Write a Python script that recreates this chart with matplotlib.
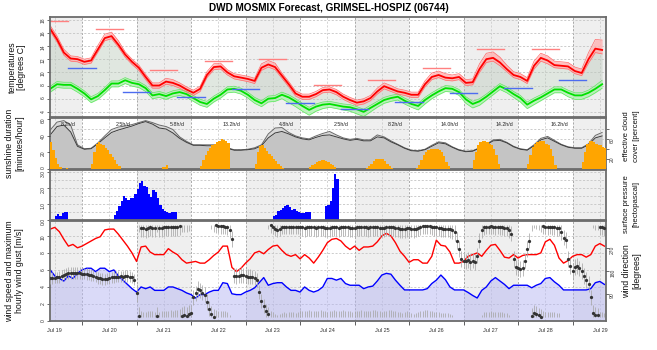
import numpy as np
import matplotlib
matplotlib.use("Agg")
import matplotlib.pyplot as plt

plt.rcParams['font.family'] = ['Liberation Sans', 'DejaVu Sans']

# ---------------------------------------------------------------- data
# time is counted in hours from Jul 19 00:00
t3 = np.arange(10, 254, 3)      # 3-hourly samples
t2 = np.arange(10, 255, 2)      # 2-hourly samples
t1 = np.arange(10, 255)         # hourly samples

day_labels = ['Jul 19', 'Jul 20', 'Jul 21', 'Jul 22', 'Jul 23', 'Jul 24',
              'Jul 25', 'Jul 26', 'Jul 27', 'Jul 28', 'Jul 29']
sun_per_day = ['8.2h/d', '2.5h/d', '5.8h/d', '13.2h/d', '4.8h/d',
               '2.5h/d', '8.2h/d', '14.0h/d', '14.2h/d', '16.2h/d']

# air temperature and dew point [deg C], 3-hourly
temp = [16.6, 15.0, 13.0, 12.1, 12.0, 11.6, 11.8, 13.5, 15.2, 15.5,
        14.2, 12.7, 11.6, 10.7, 9.3, 8.0, 8.0, 8.6, 8.4, 8.0,
        7.4, 6.9, 7.5, 9.6, 10.8, 10.9, 10.0, 9.4, 9.2, 9.0,
        8.7, 10.7, 11.2, 10.8, 9.5, 8.2, 6.8, 6.3, 6.3, 6.7,
        7.3, 7.4, 7.0, 6.3, 5.8, 5.4, 5.6, 6.1, 7.1, 7.9,
        7.5, 7.1, 6.9, 6.6, 6.6, 8.2, 9.3, 9.6, 9.2, 9.1,
        9.3, 8.4, 8.5, 10.5, 12.0, 12.2, 11.5, 10.5, 9.6, 9.3,
        8.7, 11.0, 12.2, 11.8, 11.1, 11.0, 10.9, 10.2, 9.9, 12.0,
        13.6, 13.4]
temp_up = [0.5, 0.5, 0.5, 0.4, 0.4, 0.4, 0.4, 0.6, 0.6, 0.6,
           0.6, 0.4, 0.4, 0.4, 0.4, 0.4, 0.4, 0.5, 0.5, 0.4,
           0.4, 0.4, 0.4, 0.5, 0.5, 0.5, 0.4, 0.4, 0.4, 0.4,
           0.4, 0.6, 0.6, 0.6, 0.4, 0.4, 0.4, 0.4, 0.4, 0.4,
           0.4, 0.4, 0.4, 0.4, 0.4, 0.4, 0.4, 0.4, 0.5, 0.5,
           0.5, 0.4, 0.4, 0.4, 0.4, 0.5, 0.6, 0.6, 0.6, 0.5,
           0.5, 0.5, 0.5, 0.8, 0.9, 0.9, 0.8, 0.6, 0.5, 0.5,
           0.5, 0.7, 0.7, 0.7, 0.6, 0.6, 0.6, 0.6, 0.6, 1.0,
           1.4, 1.5]
temp_dn = [0.4, 0.4, 0.4, 0.4, 0.4, 0.4, 0.4, 0.4, 0.4, 0.4,
           0.4, 0.4, 0.4, 0.4, 0.4, 0.4, 0.4, 0.4, 0.4, 0.4,
           0.4, 0.4, 0.4, 0.4, 0.4, 0.4, 0.4, 0.4, 0.4, 0.4,
           0.4, 0.4, 0.4, 0.4, 0.4, 0.4, 0.4, 0.4, 0.4, 0.4,
           0.4, 0.4, 0.4, 0.4, 0.4, 0.4, 0.4, 0.4, 0.4, 0.4,
           0.4, 0.4, 0.4, 0.4, 0.4, 0.4, 0.4, 0.4, 0.4, 0.4,
           0.4, 0.4, 0.4, 0.5, 0.5, 0.5, 0.5, 0.4, 0.4, 0.4,
           0.4, 0.5, 0.5, 0.5, 0.4, 0.4, 0.4, 0.4, 0.4, 0.6,
           0.6, 0.6]
dew = [7.5, 8.2, 8.1, 8.1, 7.5, 6.8, 5.9, 6.4, 7.3, 8.3,
       8.3, 8.8, 8.4, 8.2, 7.6, 6.5, 6.7, 6.4, 6.8, 7.0,
       6.7, 6.1, 5.5, 5.2, 6.0, 6.6, 7.4, 7.5, 7.2, 6.6,
       5.8, 5.3, 6.0, 6.1, 6.6, 6.2, 5.6, 4.9, 4.3, 4.8,
       5.1, 5.2, 5.0, 4.8, 4.7, 4.4, 4.0, 4.6, 5.2, 5.8,
       6.1, 6.3, 5.7, 5.2, 4.9, 5.8, 6.5, 7.1, 7.6, 7.5,
       7.0, 5.9, 5.2, 5.6, 6.3, 7.1, 7.9, 7.4, 6.7, 6.1,
       5.1, 5.7, 6.2, 6.8, 7.4, 7.4, 6.9, 6.5, 6.5, 6.9,
       7.5, 8.2]
dew_up = [0.4, 0.4, 0.4, 0.4, 0.4, 0.4, 0.4, 0.4, 0.4, 0.4,
          0.4, 0.4, 0.4, 0.4, 0.4, 0.4, 0.4, 0.4, 0.4, 0.4,
          0.4, 0.4, 0.4, 0.4, 0.4, 0.4, 0.4, 0.4, 0.4, 0.4,
          0.4, 0.4, 0.4, 0.4, 0.4, 0.4, 0.4, 0.4, 0.4, 0.4,
          0.4, 0.4, 0.4, 0.4, 0.4, 0.4, 0.4, 0.4, 0.4, 0.4,
          0.4, 0.4, 0.4, 0.4, 0.4, 0.4, 0.4, 0.4, 0.4, 0.4,
          0.4, 0.4, 0.4, 0.4, 0.4, 0.4, 0.4, 0.4, 0.4, 0.4,
          0.4, 0.4, 0.4, 0.4, 0.4, 0.4, 0.4, 0.4, 0.4, 0.4,
          0.5, 0.6]
dew_dn = [0.5, 0.5, 0.5, 0.5, 0.5, 0.5, 0.5, 0.5, 0.5, 0.5,
          0.5, 0.5, 0.5, 0.5, 0.5, 0.5, 0.5, 0.5, 0.5, 0.5,
          0.5, 0.5, 0.5, 0.5, 0.5, 0.5, 0.5, 0.5, 0.5, 0.5,
          0.5, 0.5, 0.5, 0.5, 0.6, 0.8, 0.8, 0.8, 0.8, 0.7,
          0.6, 0.5, 0.5, 0.5, 0.6, 0.7, 0.7, 0.6, 0.5, 0.5,
          0.5, 0.5, 0.5, 0.5, 0.6, 0.6, 0.5, 0.5, 0.5, 0.5,
          0.5, 0.6, 0.6, 0.6, 0.5, 0.5, 0.5, 0.5, 0.5, 0.6,
          0.6, 0.6, 0.5, 0.5, 0.5, 0.5, 0.6, 0.6, 0.6, 0.6,
          0.6, 0.6]

# daytime maximum (06-18) and night-time minimum (18-06) per day
tmax_day = [17.8, 16.6, 10.4, 11.7, 12.0, 8.1, 8.9, 10.7, 13.5, 13.6]
tmin_night = [10.6, 7.0, 6.2, 7.5, 5.4, 4.5, 5.5, 6.8, 7.7, 8.8]

# effective cloud cover [percent], 3-hourly, two model runs
cloud_a = [78, 94, 97, 88, 48, 40, 41, 52, 66, 79,
           84, 86, 89, 93, 97, 93, 88, 85, 79, 64,
           55, 48, 48, 48, 48, 47, 42, 38, 38, 39,
           42, 48, 70, 82, 83, 73, 66, 62, 60, 66,
           71, 75, 68, 62, 59, 61, 58, 58, 68, 64,
           56, 49, 42, 37, 36, 39, 47, 54, 52, 44,
           38, 35, 36, 42, 49, 58, 59, 53, 45, 40,
           38, 48, 61, 65, 57, 49, 44, 42, 42, 50,
           67, 73]
cloud_b = [68, 85, 88, 74, 45, 39, 40, 50, 62, 73,
           78, 82, 86, 91, 95, 90, 82, 80, 72, 61,
           53, 47, 47, 46, 46, 45, 41, 37, 37, 38,
           40, 46, 62, 72, 75, 70, 64, 60, 58, 63,
           67, 68, 64, 60, 57, 59, 56, 56, 64, 62,
           54, 48, 41, 36, 35, 38, 45, 52, 50, 43,
           37, 34, 35, 41, 48, 56, 57, 52, 44, 39,
           37, 46, 58, 62, 55, 48, 43, 41, 41, 48,
           62, 66]

# sunshine duration [minutes/hour], hourly, one row per day
sunshine = [
    32, 22, 13, 6, 2, 0, 0, 1, 0, 0, 0, 0, 0, 0,
    0, 0, 0, 0, 5, 20, 30, 32, 30, 28, 25, 22, 18, 14, 10, 6, 3, 0, 0, 0, 0, 0, 0, 0,
    0, 0, 0, 0, 0, 0, 0, 0, 0, 0, 0, 2, 2, 4, 0, 0, 0, 0, 0, 0, 0, 0, 0, 0,
    0, 0, 0, 0, 3, 10, 17, 21, 25, 28, 30, 32, 34, 36, 35, 33, 31, 0, 0, 0, 0, 0, 0, 0,
    0, 0, 0, 0, 5, 20, 27, 28, 25, 21, 18, 15, 12, 9, 6, 3, 1, 0, 0, 0, 0, 0, 0, 0,
    0, 0, 0, 0, 2, 4, 6, 8, 9, 10, 10, 9, 8, 6, 4, 2, 0, 0, 0, 0, 0, 0, 0, 0,
    0, 0, 0, 0, 0, 1, 3, 6, 9, 11, 12, 12, 11, 9, 6, 3, 1, 0, 0, 0, 0, 0, 0, 0,
    0, 0, 0, 1, 4, 10, 16, 20, 22, 24, 24, 24, 24, 23, 20, 15, 8, 3, 0, 0, 0, 0, 0, 0,
    0, 0, 0, 0, 10, 20, 28, 32, 34, 34, 32, 30, 28, 24, 16, 5, 0, 0, 0, 0, 0, 0, 0, 0,
    0, 0, 0, 0, 5, 16, 26, 30, 32, 34, 34, 33, 30, 28, 24, 15, 4, 0, 0, 0, 0, 0, 0, 0,
    0, 0, 0, 0, 8, 20, 30, 33, 33, 32, 30, 29, 28, 26, 25]

# precipitation [mm/h], hourly, one row per day
precip = [
    0, 0, 0.2, 0.35, 0.25, 0.4, 0.5, 0.45, 0, 0, 0, 0, 0, 0,
    0, 0, 0, 0, 0, 0, 0, 0, 0, 0, 0, 0, 0, 0, 0.3, 0.55, 0.87, 1.2, 1.5, 1.4, 1.25, 1.4, 1.4, 1.6,
    1.95, 2.3, 2.45, 2.1, 2.05, 1.6, 1.45, 1.9, 1.75, 1.35, 0.9, 0.7, 0.55, 0.45, 0.4, 0.45, 0.45, 0.45, 0, 0, 0, 0, 0, 0,
    0, 0, 0, 0, 0, 0, 0, 0, 0, 0, 0, 0, 0, 0, 0, 0, 0, 0, 0, 0, 0, 0, 0, 0,
    0, 0, 0, 0, 0, 0, 0, 0, 0, 0, 0, 0, 0.2, 0.3, 0.55, 0.6, 0.75, 0.87, 0.93, 0.8, 0.6, 0.7, 0.55, 0.5,
    0.4, 0.4, 0.45, 0.5, 0.5, 0, 0, 0, 0, 0, 0, 0.85, 0.9, 1.2, 2.0, 2.9, 2.6, 0, 0, 0, 0, 0, 0, 0,
    0, 0, 0, 0, 0, 0, 0, 0, 0, 0, 0, 0, 0, 0, 0, 0, 0, 0, 0, 0, 0, 0, 0, 0,
    0, 0, 0, 0, 0, 0, 0, 0, 0, 0, 0, 0, 0, 0, 0, 0, 0, 0, 0, 0, 0, 0, 0, 0,
    0, 0, 0, 0, 0, 0, 0, 0, 0, 0, 0, 0, 0, 0, 0, 0, 0, 0, 0, 0, 0, 0, 0, 0,
    0, 0, 0, 0, 0, 0, 0, 0, 0, 0, 0, 0, 0, 0, 0, 0, 0, 0, 0, 0, 0, 0, 0, 0,
    0, 0, 0, 0, 0, 0, 0, 0, 0, 0, 0, 0, 0, 0, 0]

# mean wind speed and maximum gust [m/s], 2-hourly
wind = [6.0, 5.3, 5.0, 4.7, 5.3, 5.0, 5.6, 6.0, 6.2, 6.2,
        5.8, 6.2, 6.2, 5.8, 6.0, 5.3, 4.8, 4.3, 3.8, 3.4,
        4.0, 3.8, 4.0, 3.6, 3.6, 3.6, 4.0, 4.0, 3.8, 3.6,
        3.3, 3.1, 2.7, 3.1, 3.1, 3.4, 3.6, 3.6, 4.5, 4.4,
        3.2, 3.1, 3.1, 3.4, 3.6, 3.9, 4.5, 5.1, 4.2, 4.4,
        4.5, 4.5, 4.0, 3.6, 3.6, 3.4, 4.0, 3.6, 3.4, 3.6,
        4.0, 5.0, 5.0, 4.8, 5.0, 4.4, 4.2, 4.2, 4.2, 3.8,
        4.0, 4.1, 4.7, 5.4, 5.6, 5.5, 4.8, 4.2, 3.65, 3.65,
        3.65, 3.65, 3.65, 3.8, 4.4, 4.8, 5.4, 4.85, 4.0, 3.65,
        3.65, 3.65, 3.35, 3.0, 2.7, 3.6, 4.0, 4.7, 5.1, 4.7,
        4.3, 3.8, 4.2, 4.2, 4.2, 4.2, 3.9, 4.2, 4.4, 5.0,
        5.1, 4.6, 4.2, 3.65, 3.65, 3.65, 3.65, 3.65, 3.65, 3.8,
        4.5, 4.65, 4.3]
gust = [10.8, 11.0, 10.5, 9.6, 8.8, 9.0, 8.6, 8.8, 9.1, 9.4,
        9.7, 9.9, 10.7, 10.8, 10.8, 10.2, 9.5, 8.8, 8.0, 7.0,
        8.7, 8.8, 8.1, 7.8, 7.8, 7.8, 8.5, 8.1, 7.8, 7.2,
        6.8, 6.9, 7.0, 6.8, 6.8, 7.2, 7.7, 8.1, 8.8, 8.8,
        6.3, 5.8, 6.2, 6.8, 7.3, 8.0, 8.2, 7.9, 8.4, 8.8,
        8.9, 8.3, 7.8, 7.6, 7.8, 7.3, 7.8, 7.4, 6.8, 7.5,
        8.3, 9.2, 9.6, 9.7, 9.4, 8.8, 8.4, 8.8, 8.3, 8.7,
        8.7, 8.8, 9.3, 10.0, 10.3, 10.0, 9.2, 8.2, 7.6, 6.9,
        7.2, 7.2, 6.8, 6.8, 7.6, 9.5, 8.9, 8.8, 8.1, 6.8,
        6.8, 7.0, 7.6, 7.8, 8.0, 7.6, 8.3, 8.9, 9.0, 8.3,
        7.5, 7.4, 7.8, 7.4, 7.7, 7.8, 7.8, 7.8, 8.0, 9.3,
        9.6, 8.9, 7.4, 6.8, 7.1, 7.6, 7.8, 7.8, 7.5, 7.8,
        8.8, 9.1, 8.8]

# wind direction [degrees], hourly, one row per day
wind_dir = [
    153, 153, 154, 155, 157, 162, 166, 169, 172, 172, 172, 172, 172, 172,
    170, 169, 168, 166, 164, 162, 158, 153, 151, 149, 148, 150, 153, 155, 157, 158, 158, 159, 158, 160, 161, 158, 155, 146,
    96, 5, 348, 346, 345, 348, 350, 348, 347, 5, 347, 349, 350, 350, 351, 352, 350, 352, 353, 356, 6, 8, 6, 12,
    18, 77, 93, 110, 105, 96, 88, 60, 34, 12, 2, 357, 356, 355, 355, 353, 350, 338, 305, 162, 160, 162, 165, 163,
    160, 158, 158, 156, 152, 145, 99, 64, 44, 25, 13, 357, 352, 345, 340, 345, 350, 352, 350, 352, 353, 352, 350, 352,
    352, 350, 348, 350, 352, 350, 350, 348, 350, 352, 350, 348, 347, 348, 350, 352, 350, 348, 350, 352, 350, 350, 348, 346,
    348, 350, 350, 352, 350, 350, 348, 350, 352, 352, 350, 348, 347, 348, 350, 352, 352, 350, 348, 346, 344, 343, 345, 348,
    346, 343, 342, 345, 348, 352, 354, 355, 355, 354, 352, 350, 350, 348, 346, 345, 344, 343, 342, 338, 330, 298, 266, 227,
    220, 218, 222, 215, 220, 215, 240, 298, 340, 350, 352, 352, 354, 352, 350, 352, 350, 350, 348, 346, 340, 325, 227, 194,
    190, 188, 192, 220, 266, 298, 5, 18, 12, 8, 3, 355, 352, 350, 352, 350, 350, 348, 346, 330, 310, 300, 227, 200,
    180, 196, 200, 190, 180, 160, 145, 130, 77, 18, 10, 8, 350, 350, 348]
# spread of the direction ensemble per day [degrees]
dir_spread = [22, 22, 35, 30, 28, 35, 35, 32, 30, 30, 30]

# ---------------------------------------------------------------- layout
W, H = 657.0, 350.0
fig = plt.figure(figsize=(W / 100, H / 100), dpi=100)


def rect(top, bottom, left=50, right=606):
    return [left / W, 1 - bottom / H, (right - left) / W, (bottom - top) / H]


XMIN, XMAX = 9.9, 254.7
GRID = dict(lw=0.6, ls=(0, (2.5, 2)), zorder=1)


def frame(ax, grid_y):
    ax.set_xlim(XMIN, XMAX)
    for d in range(0, 11, 2):
        ax.axvspan(24 * d, 24 * (d + 1), color='#efefef', lw=0, zorder=0)
    for d in range(1, 11):
        ax.axvline(24 * d, color='#9c9c9c', **GRID)
    for d in range(0, 11):
        ax.axvline(24 * d + 12, color='#cdcdcd', **GRID)
    for y in grid_y:
        ax.axhline(y, color='#c4c4c4', **GRID)
    ax.tick_params(axis='x', bottom=False, labelbottom=False)
    for s in ax.spines.values():
        s.set_color('#6c6c6c')
        s.set_linewidth(1.3)
        s.set_zorder(20)


def yticks(ax, ticks, labels, side='left'):
    ax.set_yticks(ticks)
    ax.set_yticklabels(labels)
    if side == 'left':
        ax.yaxis.tick_left()
    else:
        ax.yaxis.tick_right()
    ax.tick_params(axis='y', labelrotation=90, labelsize=3.6, length=2,
                   width=0.5, pad=1, colors='#333333')


# ---- panel 1: temperatures
ax1 = fig.add_axes(rect(17, 116.5))
frame(ax1, [4, 6, 8, 10, 12, 14, 16, 18])
ax1.set_ylim(3.3, 18.4)
yticks(ax1, [4, 6, 8, 10, 12, 14, 16, 18],
       ['4', '6', '8', '10', '12', '14', '16', '18'])
T = np.array(temp)
D = np.array(dew)
ax1.fill_between(t3, D, T, color='#bccabc', alpha=0.45, lw=0, zorder=2)
ax1.fill_between(t3, D - np.array(dew_dn), D + np.array(dew_up),
                 color='#aef0ae', alpha=0.8, lw=0, zorder=3)
ax1.fill_between(t3, T - np.array(temp_dn), T + np.array(temp_up),
                 color='#ffb2b2', alpha=0.8, lw=0, zorder=3)
for edge in (D - np.array(dew_dn), D + np.array(dew_up)):
    ax1.plot(t3, edge, color='#5ee85e', lw=0.5, zorder=4)
for edge in (T - np.array(temp_dn), T + np.array(temp_up)):
    ax1.plot(t3, edge, color='#ff6a6a', lw=0.5, zorder=4)
ax1.plot(t3, D, color='#00e000', lw=1.3, zorder=5)
ax1.plot(t3, T, color='#ff0000', lw=1.3, zorder=5)
for k, v in enumerate(tmax_day):
    ax1.plot([6 + 24 * k, 18 + 24 * k], [v, v], color='#ff8080', lw=1.0, zorder=6)
for k, v in enumerate(tmin_night):
    ax1.plot([18 + 24 * k, 30 + 24 * k], [v, v], color='#4d6cf0', lw=1.0, zorder=6)

# ---- panel 2: cloud cover (right axis) and sunshine (left axis)
ax2 = fig.add_axes(rect(117.5, 168.5))
frame(ax2, [20, 40, 60, 80])
ax2.set_ylim(0, 103.3)
ca = np.array(cloud_a)
cb = np.array(cloud_b)
lo = np.minimum(ca, cb)
hi = np.maximum(ca, cb)
ax2.fill_between(t3, 0, lo, color='#c4c4c4', lw=0, zorder=2)
ax2.fill_between(t3, lo, hi, color='#d8d8d8', lw=0, zorder=2)
ax2.plot(t3, ca, color='#6a6a6a', lw=0.7, zorder=3)
ax2.plot(t3, cb, color='#3c3c3c', lw=0.7, zorder=3)

ax2s = ax2.twinx()
ax2s.set_xlim(XMIN, XMAX)
ax2s.set_ylim(0, 62)
ax2s.bar(t1, sunshine, width=1.0, align='edge', color='#ffa500', lw=0, zorder=4)
for s in ax2s.spines.values():
    s.set_visible(False)
for k, lab in enumerate(sun_per_day):
    ax2s.text(18 + 24 * k, 53.5, lab, ha='center', va='center',
              fontsize=3.8, color='#222222', zorder=6)
# sunshine scale on the left, cloud scale on the right
yticks(ax2s, [0, 20, 40, 60], ['0', '20', '40', '60'], side='left')
yticks(ax2, [20, 40, 60, 80], ['20', '', '60', ''], side='right')

# ---- panel 3: precipitation
ax3 = fig.add_axes(rect(170, 219.5))
frame(ax3, [0.5, 1.0, 1.5, 2.0, 2.5, 3.0])
ax3.set_ylim(0, 3.15)
ax3.bar(t1, precip, width=1.0, align='edge', color='#0000ff', lw=0, zorder=4)
yticks(ax3, [0, 1, 2, 3], ['0.0', '1.0', '2.0', '3.0'])

# ---- panel 4: wind speed, gust and direction
ax4 = fig.add_axes(rect(221, 321))
frame(ax4, [2, 4, 6, 8, 10])
ax4.set_ylim(0, 11.75)
ax4.fill_between(t2, 0, wind, color='#b6b6f2', alpha=0.5, lw=0, zorder=2)
ax4.plot(t2, wind, color='#0000ff', lw=1.0, zorder=5)
ax4.plot(t2, gust, color='#ff0000', lw=1.0, zorder=5)

ax4d = ax4.twinx()
ax4d.set_xlim(XMIN, XMAX)
ax4d.set_ylim(-14.4, 374.4)
wd = np.array(wind_dir, dtype=float)
sp = np.array([dir_spread[int(h // 24)] for h in t1], dtype=float)
lo = wd - sp
hi = wd + sp
segs_x, segs_lo, segs_hi = [], [], []
for h, a, b in zip(t1, lo, hi):
    segs_x.append(h); segs_lo.append(max(a, 0)); segs_hi.append(min(b, 360))
    if b > 360:
        segs_x.append(h); segs_lo.append(0); segs_hi.append(b - 360)
    if a < 0:
        segs_x.append(h); segs_lo.append(360 + a); segs_hi.append(360)
ax4d.vlines(segs_x, segs_lo, segs_hi, color='#a8a8a8', lw=0.55, zorder=3)
ax4d.scatter(t1, wd, s=5.5, color='#333333', lw=0, zorder=6)
for s in ax4d.spines.values():
    s.set_visible(False)
yticks(ax4, [0, 2, 4, 6, 8, 10], ['0', '2', '4', '6', '8', '10'])
yticks(ax4d, [90, 180, 270], ['90', '180', '270'], side='right')

ax4.set_xticks([24 * d for d in range(1, 11)])
ax4.set_xticklabels([])
ax4.set_xticks([24 * d + 12 for d in range(11)], minor=True)
ax4.set_xticklabels(day_labels, minor=True)
ax4.tick_params(axis='x', which='major', bottom=True, length=3, width=0.6,
                color='#444444', direction='out')
ax4.tick_params(axis='x', which='minor', bottom=True, length=0, labelbottom=True,
                labelsize=4.0, pad=5, colors='#333333')
ax4d.tick_params(axis='x', bottom=False, labelbottom=False)

# ---------------------------------------------------------------- texts
fig.text(328.5 / W, 1 - 8 / H, 'DWD MOSMIX Forecast, GRIMSEL-HOSPIZ (06744)',
         ha='center', va='center', fontsize=7.2, fontweight='bold')

LBL = dict(rotation=90, ha='center', va='center', fontsize=6.3, color='#111111')
fig.text(12 / W, 1 - 67 / H, 'temperatures', **LBL)
fig.text(21.5 / W, 1 - 67 / H, '[degrees C]', **LBL)
fig.text(10 / W, 1 - 143 / H, 'sunshine duration', **LBL)
fig.text(19.5 / W, 1 - 143 / H, '[minutes/hour]', **LBL)
fig.text(10 / W, 1 - 271 / H, 'wind speed and maximum', **LBL)
fig.text(19.5 / W, 1 - 271 / H, 'hourly wind gust [m/s]', **LBL)

# the two stacked right-hand labels sit closer together than their panels,
# so they are set a little smaller and pushed apart
RLBL = dict(LBL, fontsize=5.6)
fig.text(627 / W, 1 - 136 / H, 'effective cloud', **RLBL)
fig.text(636 / W, 1 - 136 / H, 'cover [percent]', **RLBL)
fig.text(627 / W, 1 - 204 / H, 'surface pressure', **RLBL)
fig.text(636 / W, 1 - 204 / H, '[hectopascal]', **RLBL)
fig.text(627 / W, 1 - 271 / H, 'wind direction', **LBL)
fig.text(636.5 / W, 1 - 271 / H, '[degrees]', **LBL)

fig.savefig('out.png', dpi=100)
